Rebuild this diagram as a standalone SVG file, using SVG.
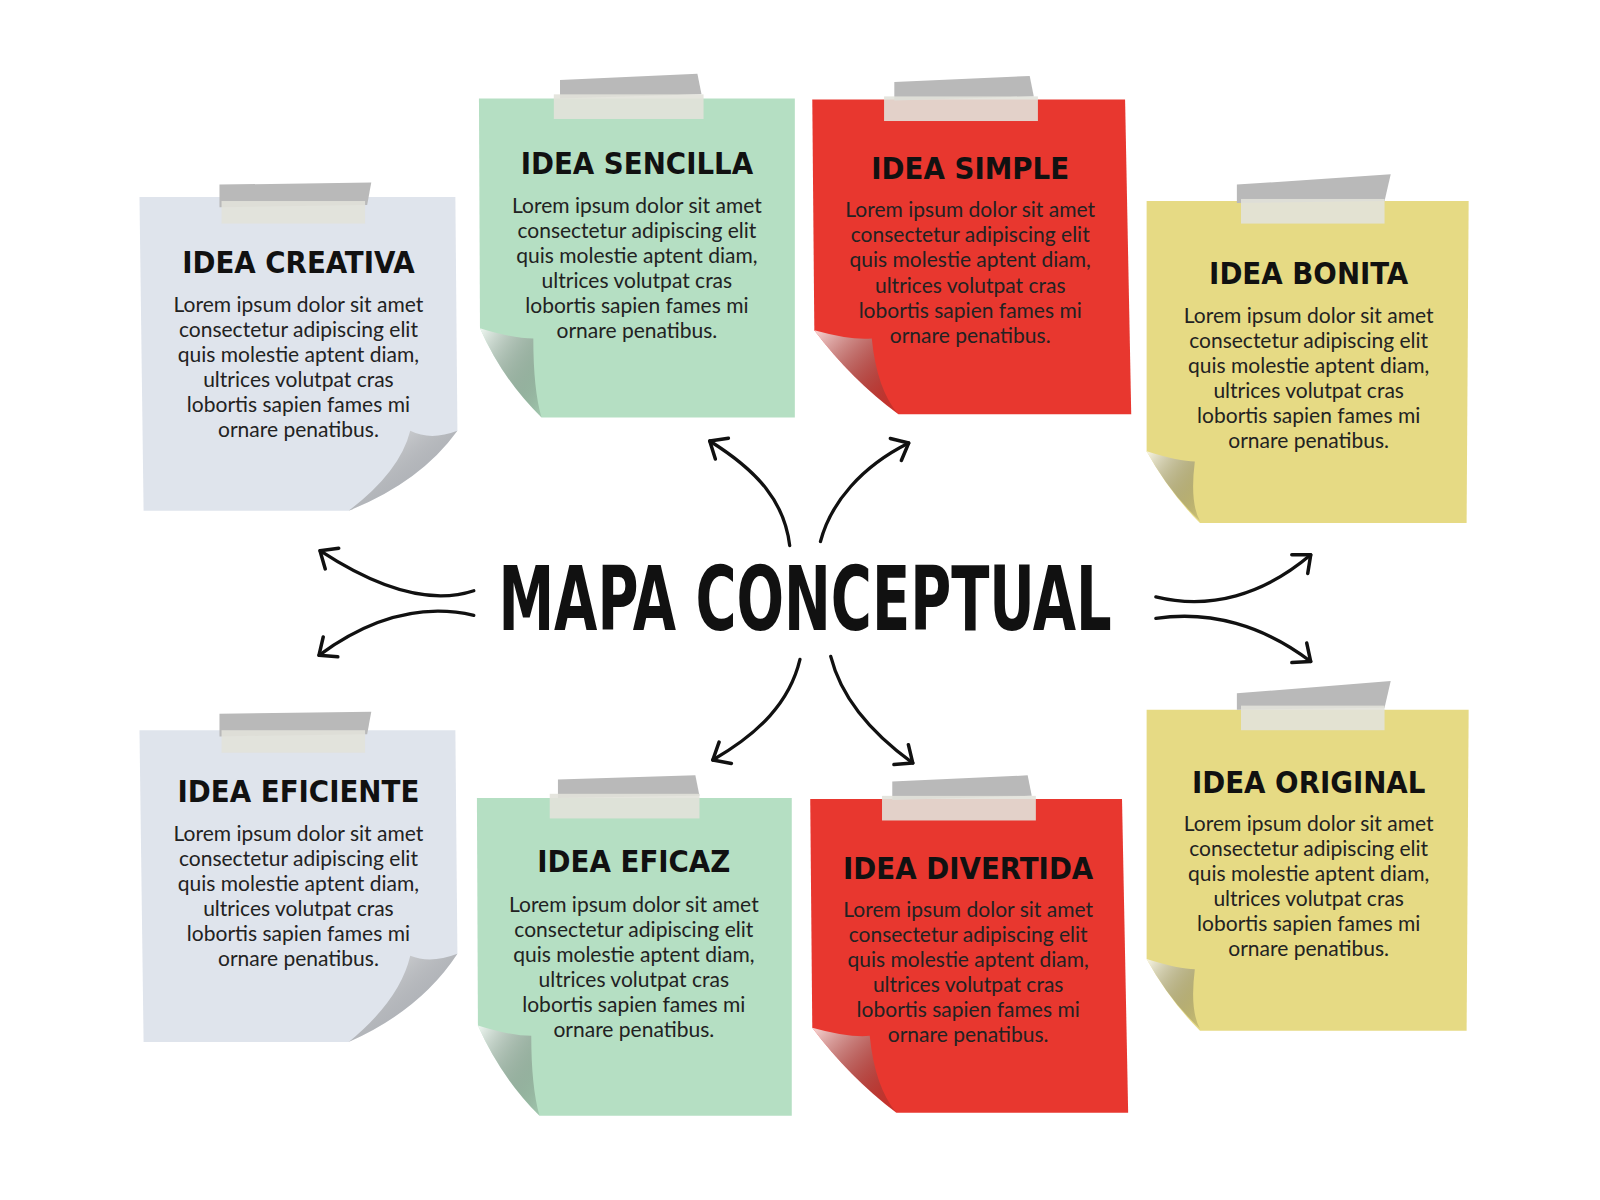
<svg xmlns="http://www.w3.org/2000/svg" width="1600" height="1200" viewBox="0 0 1600 1200">
<style>
.h{font-family:"DejaVu Sans Condensed","DejaVu Sans",sans-serif;font-stretch:condensed;font-weight:bold;font-size:30px;fill:#111;text-anchor:middle}
.b{font-family:"Lato","Open Sans",sans-serif;font-size:20.5px;fill:#222;text-anchor:middle}
.t1{fill:#b9b9b9}.t2{fill:#e2e2da;opacity:.9}
.ar{fill:none;stroke:#111;stroke-width:3.2;stroke-linecap:round;marker-end:url(#m)}
</style>
<defs>
<marker id="m" markerUnits="userSpaceOnUse" markerWidth="40" markerHeight="40" refX="20" refY="20" orient="auto" viewBox="0 0 40 40">
<path d="M6,8 L20,20 L6,32" fill="none" stroke="#111" stroke-width="3.4" stroke-linecap="round" stroke-linejoin="round"/>
</marker>
<linearGradient id="fl" x1="0" y1="0" x2="1" y2="1"><stop offset="0" stop-color="#fff" stop-opacity=".8"/><stop offset="1" stop-color="#000" stop-opacity=".1"/></linearGradient>
</defs>
<rect width="1600" height="1200" fill="#fff"/>
<g transform="scale(1.0256)">
<g id="creativa">
<path d="M136,192 H444 L446,420 Q410,470 340,498 H140 Z" fill="#dfe4ec"/>
<path d="M446,420 Q420,430 400,420 Q390,460 340,498 Q410,470 446,420 Z" fill="url(#fl)"/>
<path d="M214,180 L362,178 L358,200 L214,202 Z" class="t1"/><rect x="216" y="196" width="140" height="22" class="t2"/>
<text class="h" x="291" y="266">IDEA CREATIVA</text>
<text class="b" x="291" y="304">Lorem ipsum dolor sit amet<tspan x="291" dy="24.4">consectetur adipiscing elit</tspan><tspan x="291" dy="24.4">quis molestie aptent diam,</tspan><tspan x="291" dy="24.4">ultrices volutpat cras</tspan><tspan x="291" dy="24.4">lobortis sapien fames mi</tspan><tspan x="291" dy="24.4">ornare penatibus.</tspan></text>
</g>

<g id="sencilla">
<path d="M467,96 H775 V407 H528 Q490,370 468,320 Z" fill="#b5dfc3"/>
<path d="M468,320 Q500,330 520,330 Q520,380 528,407 Q490,370 468,320 Z" fill="url(#fl)"/>
<path d="M546,78 L680,72 L684,92 L546,96 Z" class="t1"/><rect x="540" y="92" width="146" height="24" class="t2"/>
<text class="h" x="621" y="170">IDEA SENCILLA</text>
<text class="b" x="621" y="208">Lorem ipsum dolor sit amet<tspan x="621" dy="24.4">consectetur adipiscing elit</tspan><tspan x="621" dy="24.4">quis molestie aptent diam,</tspan><tspan x="621" dy="24.4">ultrices volutpat cras</tspan><tspan x="621" dy="24.4">lobortis sapien fames mi</tspan><tspan x="621" dy="24.4">ornare penatibus.</tspan></text>
</g>

<g id="simple">
<path d="M792,97 H1097 L1103,404 H876 Q830,370 794,322 Z" fill="#e8372f"/>
<path d="M794,322 Q830,332 850,330 Q855,380 876,404 Q830,370 794,322 Z" fill="url(#fl)"/>
<path d="M872,80 L1004,74 L1008,94 L872,98 Z" class="t1"/><rect x="862" y="94" width="150" height="24" class="t2"/>
<text class="h" x="946" y="175">IDEA SIMPLE</text>
<text class="b" x="946" y="212">Lorem ipsum dolor sit amet<tspan x="946" dy="24.4">consectetur adipiscing elit</tspan><tspan x="946" dy="24.4">quis molestie aptent diam,</tspan><tspan x="946" dy="24.4">ultrices volutpat cras</tspan><tspan x="946" dy="24.4">lobortis sapien fames mi</tspan><tspan x="946" dy="24.4">ornare penatibus.</tspan></text>
</g>

<g id="bonita">
<path d="M1118,196 H1432 L1430,510 H1170 Q1140,480 1118,440 Z" fill="#e6da84"/>
<path d="M1118,440 Q1150,450 1165,450 Q1160,490 1170,508 Q1140,480 1118,440 Z" fill="url(#fl)"/>
<path d="M1206,180 L1356,170 L1350,196 L1206,198 Z" class="t1"/><rect x="1210" y="194" width="140" height="24" class="t2"/>
<text class="h" x="1276" y="277">IDEA BONITA</text>
<text class="b" x="1276" y="315">Lorem ipsum dolor sit amet<tspan x="1276" dy="24.4">consectetur adipiscing elit</tspan><tspan x="1276" dy="24.4">quis molestie aptent diam,</tspan><tspan x="1276" dy="24.4">ultrices volutpat cras</tspan><tspan x="1276" dy="24.4">lobortis sapien fames mi</tspan><tspan x="1276" dy="24.4">ornare penatibus.</tspan></text>
</g>

<g id="eficiente">
<path d="M136,712 H444 L446,930 Q410,985 340,1016 H140 Z" fill="#dfe4ec"/>
<path d="M446,930 Q420,940 400,932 Q390,975 340,1016 Q410,985 446,930 Z" fill="url(#fl)"/>
<path d="M214,696 L362,694 L358,716 L214,718 Z" class="t1"/><rect x="216" y="712" width="140" height="22" class="t2"/>
<text class="h" x="291" y="782">IDEA EFICIENTE</text>
<text class="b" x="291" y="820">Lorem ipsum dolor sit amet<tspan x="291" dy="24.4">consectetur adipiscing elit</tspan><tspan x="291" dy="24.4">quis molestie aptent diam,</tspan><tspan x="291" dy="24.4">ultrices volutpat cras</tspan><tspan x="291" dy="24.4">lobortis sapien fames mi</tspan><tspan x="291" dy="24.4">ornare penatibus.</tspan></text>
</g>

<g id="eficaz">
<path d="M465,778 H772 V1088 H526 Q488,1050 466,1000 Z" fill="#b5dfc3"/>
<path d="M466,1000 Q498,1010 518,1010 Q518,1060 526,1088 Q488,1050 466,1000 Z" fill="url(#fl)"/>
<path d="M544,760 L678,756 L682,776 L544,778 Z" class="t1"/><rect x="536" y="774" width="146" height="24" class="t2"/>
<text class="h" x="618" y="850">IDEA EFICAZ</text>
<text class="b" x="618" y="889">Lorem ipsum dolor sit amet<tspan x="618" dy="24.4">consectetur adipiscing elit</tspan><tspan x="618" dy="24.4">quis molestie aptent diam,</tspan><tspan x="618" dy="24.4">ultrices volutpat cras</tspan><tspan x="618" dy="24.4">lobortis sapien fames mi</tspan><tspan x="618" dy="24.4">ornare penatibus.</tspan></text>
</g>

<g id="divertida">
<path d="M790,779 H1094 L1100,1085 H874 Q828,1050 792,1002 Z" fill="#e8372f"/>
<path d="M792,1002 Q828,1012 848,1010 Q853,1060 874,1085 Q828,1050 792,1002 Z" fill="url(#fl)"/>
<path d="M870,762 L1002,756 L1006,776 L870,780 Z" class="t1"/><rect x="860" y="776" width="150" height="24" class="t2"/>
<text class="h" x="944" y="857">IDEA DIVERTIDA</text>
<text class="b" x="944" y="894">Lorem ipsum dolor sit amet<tspan x="944" dy="24.4">consectetur adipiscing elit</tspan><tspan x="944" dy="24.4">quis molestie aptent diam,</tspan><tspan x="944" dy="24.4">ultrices volutpat cras</tspan><tspan x="944" dy="24.4">lobortis sapien fames mi</tspan><tspan x="944" dy="24.4">ornare penatibus.</tspan></text>
</g>

<g id="original">
<path d="M1118,692 H1432 L1430,1005 H1170 Q1140,975 1118,935 Z" fill="#e6da84"/>
<path d="M1118,935 Q1150,945 1165,945 Q1160,985 1170,1003 Q1140,975 1118,935 Z" fill="url(#fl)"/>
<path d="M1206,676 L1356,664 L1350,690 L1206,692 Z" class="t1"/><rect x="1210" y="688" width="140" height="24" class="t2"/>
<text class="h" x="1276" y="773">IDEA ORIGINAL</text>
<text class="b" x="1276" y="810">Lorem ipsum dolor sit amet<tspan x="1276" dy="24.4">consectetur adipiscing elit</tspan><tspan x="1276" dy="24.4">quis molestie aptent diam,</tspan><tspan x="1276" dy="24.4">ultrices volutpat cras</tspan><tspan x="1276" dy="24.4">lobortis sapien fames mi</tspan><tspan x="1276" dy="24.4">ornare penatibus.</tspan></text>
</g>

<g id="title">
<text x="785" y="614" font-family="DejaVu Sans Condensed,DejaVu Sans,sans-serif" font-stretch="condensed" font-weight="bold" font-size="86" fill="#111" text-anchor="middle" textLength="598" lengthAdjust="spacingAndGlyphs">MAPA CONCEPTUAL</text>
</g>

<g id="connectors">
<path class="ar" d="M462,576 C420,590 370,575 312,537"/>
<path class="ar" d="M462,600 C410,588 360,603 311,639"/>
<path class="ar" d="M1127,582 C1180,595 1232,580 1278,541"/>
<path class="ar" d="M1127,603 C1180,595 1232,610 1278,645"/>
<path class="ar" d="M770,532 C765,490 740,460 692,430"/>
<path class="ar" d="M800,528 C810,490 840,455 886,432"/>
<path class="ar" d="M780,643 C770,685 740,715 695,741"/>
<path class="ar" d="M810,640 C820,680 850,715 890,744"/>
</g>
</g>
</svg>
